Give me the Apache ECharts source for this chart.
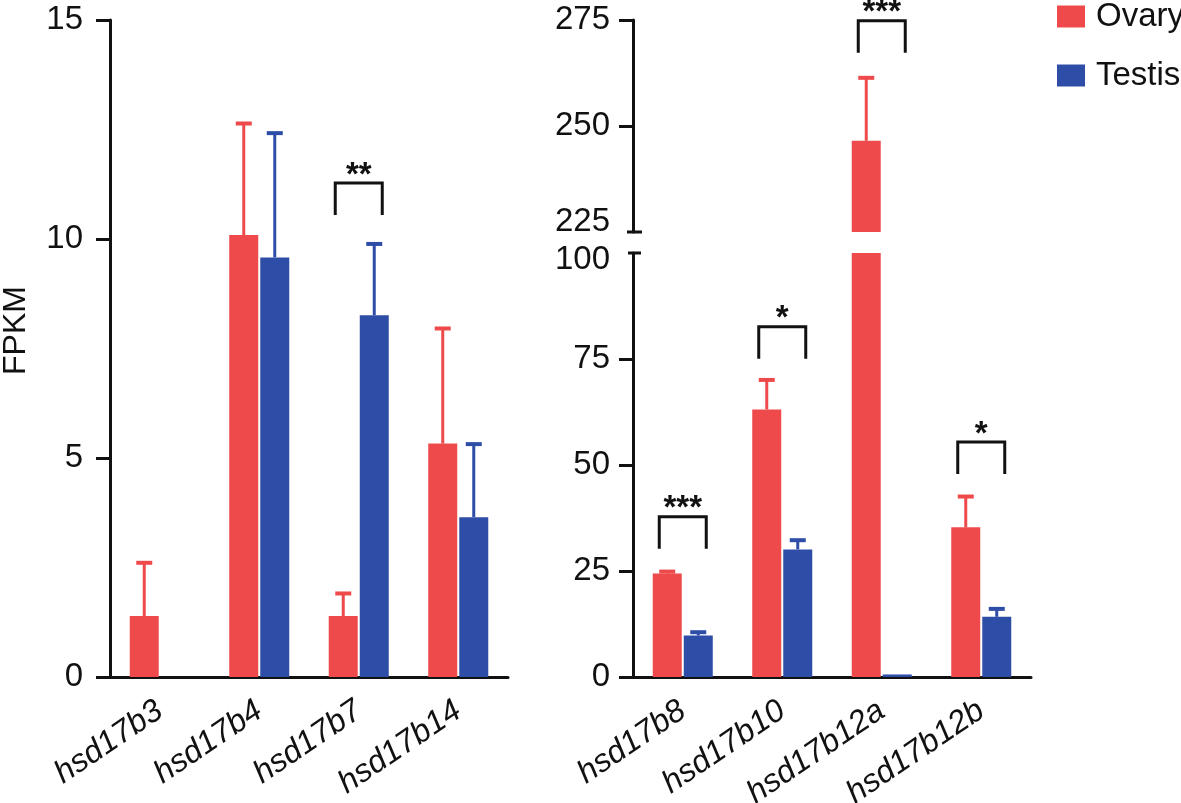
<!DOCTYPE html>
<html>
<head>
<meta charset="utf-8">
<script src="https://cdn.jsdelivr.net/npm/echarts@6/dist/echarts.min.js"></script>
<style>
html,body{margin:0;padding:0;background:#fff;}
#chart{width:1181px;height:803px;}
</style>
</head>
<body>
<div id="chart"></div>
<script>
// ---------- data ----------
const leftCategories = ['hsd17b3', 'hsd17b4', 'hsd17b7', 'hsd17b14'];
const leftOvary = [1.39, 10.09, 1.39, 5.33];
const leftOvarySD = [1.24, 2.57, 0.54, 2.65];
const leftTestis = [0, 9.58, 8.26, 3.65];
const leftTestisSD = [0, 2.86, 1.65, 1.69];
const leftTicks = [0, 5, 10, 15];

const rightCategories = ['hsd17b8', 'hsd17b10', 'hsd17b12a', 'hsd17b12b'];
const rightOvary = [24.4, 63.1, 246.5, 35.3];
const rightOvarySD = [0.7, 7.2, 15.1, 7.5];
const rightTestis = [9.8, 30.1, 0.6, 14.2];
const rightTestisSD = [1.0, 2.4, 0, 2.1];
const rightLowerTicks = [0, 25, 50, 75, 100];
const rightUpperTicks = [225, 250, 275];

// significance brackets: [category index, bracket top value], labels separate
const leftBrackets = [[2, 11.28]];
const leftBracketLabels = ['**'];
const rightLowerBrackets = [[0, 37.8], [1, 82.6], [3, 55.4]];
const rightLowerBracketLabels = ['***', '*', '*'];
const rightUpperBrackets = [[2, 274.8]];
const rightUpperBracketLabels = ['***'];

// ---------- style ----------
const RED = '#EE4A4B';
const BLUE = '#2E4DA7';
const FONT = 'Liberation Sans';
const BAR_W = 29;
const BAR_OFF = 15.5;
const FS = 33;
const XFS = 32;

const chart = echarts.init(document.getElementById('chart'), null, {renderer: 'canvas'});

function errorBarSeries(name, gridIdx, means, sds, color, offset) {
  return {
    name: name + ' SD', type: 'custom', xAxisIndex: gridIdx, yAxisIndex: gridIdx,
    clip: true, z: 3,
    data: means.map((m, i) => [i, m, sds[i]]),
    renderItem: function (params, api) {
      const c = api.value(0), m = api.value(1), s = api.value(2);
      if (!s) return null;
      const p0 = api.coord([c, m]);
      const p1 = api.coord([c, m + s]);
      const x = p0[0] + offset;
      return {
        type: 'group',
        children: [
          {type: 'line', shape: {x1: x, y1: p0[1], x2: x, y2: p1[1]}, style: {stroke: color, lineWidth: 3}},
          {type: 'line', shape: {x1: x - 8, y1: p1[1] + 1, x2: x + 8, y2: p1[1] + 1}, style: {stroke: color, lineWidth: 4}}
        ]
      };
    }
  };
}

function bracketSeries(gridIdx, data, labels) {
  return {
    name: 'sig' + gridIdx, type: 'custom', xAxisIndex: gridIdx, yAxisIndex: gridIdx,
    clip: false, z: 4,
    data: data,
    renderItem: function (params, api) {
      const p = api.coord([api.value(0), api.value(1)]);
      const half = 23.5, leg = 32;
      return {
        type: 'group',
        children: [
          {type: 'polyline', shape: {points: [[p[0] - half, p[1] + leg], [p[0] - half, p[1]], [p[0] + half, p[1]], [p[0] + half, p[1] + leg]]},
           style: {stroke: '#111', lineWidth: 3, fill: null}},
          {type: 'text', x: p[0], y: p[1] + 9,
           style: {text: labels[params.dataIndex], fill: '#111', font: 'bold 33px "' + FONT + '"', align: 'center', verticalAlign: 'bottom'}}
        ]
      };
    }
  };
}

function breakCapSeries(gridIdx, value, leftLen, rightLen) {
  return {
    name: 'break' + gridIdx, type: 'custom', xAxisIndex: gridIdx, yAxisIndex: gridIdx,
    clip: false, z: 5,
    data: [[0, value]],
    renderItem: function (params, api) {
      const p = api.coord([0, api.value(1)]);
      const ax = params.coordSys.x;
      return {type: 'line', shape: {x1: ax - leftLen, y1: p[1], x2: ax + rightLen, y2: p[1]}, style: {stroke: '#111', lineWidth: 3}};
    }
  };
}

function barSeries(name, gridIdx, data, color) {
  return {
    name: name, type: 'bar', xAxisIndex: gridIdx, yAxisIndex: gridIdx,
    data: data, barWidth: BAR_W, barGap: '7%', clip: true,
    itemStyle: {color: color}, z: 2
  };
}

const axisLineStyle = {color: '#111', width: 3};
const labelStyle = {color: '#111', fontFamily: FONT, fontSize: FS};

function xAxis(gridIdx, cats, show) {
  return {
    type: 'category', gridIndex: gridIdx, data: cats,
    axisLine: {show: show, lineStyle: axisLineStyle},
    axisTick: {show: false},
    axisLabel: show ? {show: true, rotate: 34, margin: 31, color: '#111', fontFamily: FONT, fontSize: XFS, fontStyle: 'italic', interval: 0} : {show: false},
    splitLine: {show: false}
  };
}

const option = {
  backgroundColor: '#fff',
  animation: false,
  legend: {
    data: ['Ovary', 'Testis'], orient: 'vertical', left: 1057, top: 0, padding: 0,
    itemWidth: 28, itemHeight: 22, itemGap: 26, icon: 'rect',
    textStyle: {color: '#111', fontFamily: FONT, fontSize: FS, padding: [0, 0, 0, 6]}
  },
  grid: [
    {left: 110, top: 20, width: 398, height: 657, outerBoundsMode: 'none', containLabel: false},
    {left: 633, top: 253, width: 398, height: 424, outerBoundsMode: 'none', containLabel: false},
    {left: 633, top: 20, width: 398, height: 212, outerBoundsMode: 'none', containLabel: false}
  ],
  xAxis: [
    xAxis(0, leftCategories, true),
    xAxis(1, rightCategories, true),
    xAxis(2, rightCategories, false)
  ],
  yAxis: [
    {type: 'value', gridIndex: 0, min: leftTicks[0], max: leftTicks[leftTicks.length - 1], interval: 5,
     name: 'FPKM', nameLocation: 'middle', nameRotate: 90, nameGap: 78,
     nameTextStyle: {color: '#111', fontFamily: FONT, fontSize: 32, padding: [0, 0, 0, 36]},
     axisLine: {show: true, lineStyle: axisLineStyle},
     axisTick: {show: true, length: 14, lineStyle: axisLineStyle},
     axisLabel: Object.assign({margin: 27}, labelStyle),
     splitLine: {show: false}},
    {type: 'value', gridIndex: 1, min: rightLowerTicks[0], max: rightLowerTicks[rightLowerTicks.length - 1], interval: 25,
     axisLine: {show: true, lineStyle: axisLineStyle},
     axisTick: {show: true, length: 14, lineStyle: axisLineStyle, customValues: rightLowerTicks.slice(0, -1)},
     axisLabel: Object.assign({margin: 23,
       formatter: function (v) { return v === rightLowerTicks[rightLowerTicks.length - 1] ? '{dn|' + v + '}' : '' + v; },
       rich: {dn: {fontFamily: FONT, fontSize: FS, color: '#111', padding: [14, 0, 0, 0]}}}, labelStyle),
     splitLine: {show: false}},
    {type: 'value', gridIndex: 2, min: rightUpperTicks[0], max: rightUpperTicks[rightUpperTicks.length - 1], interval: 25,
     axisLine: {show: true, lineStyle: axisLineStyle},
     axisTick: {show: true, length: 14, lineStyle: axisLineStyle, customValues: rightUpperTicks.slice(1)},
     axisLabel: Object.assign({margin: 23,
       formatter: function (v) { return v === rightUpperTicks[0] ? '{up|' + v + '}' : '' + v; },
       rich: {up: {fontFamily: FONT, fontSize: FS, color: '#111', padding: [0, 0, 20, 0]}}}, labelStyle),
     splitLine: {show: false}}
  ],
  series: [
    barSeries('Ovary', 0, leftOvary, RED),
    barSeries('Testis', 0, leftTestis, BLUE),
    errorBarSeries('Ovary', 0, leftOvary, leftOvarySD, RED, -BAR_OFF),
    errorBarSeries('Testis', 0, leftTestis, leftTestisSD, BLUE, BAR_OFF),
    bracketSeries(0, leftBrackets, leftBracketLabels),

    barSeries('Ovary', 1, rightOvary, RED),
    barSeries('Testis', 1, rightTestis, BLUE),
    errorBarSeries('Ovary', 1, rightOvary, rightOvarySD, RED, -BAR_OFF),
    errorBarSeries('Testis', 1, rightTestis, rightTestisSD, BLUE, BAR_OFF),
    bracketSeries(1, rightLowerBrackets, rightLowerBracketLabels),
    breakCapSeries(1, rightLowerTicks[rightLowerTicks.length - 1], 5, 8),

    barSeries('Ovary', 2, rightOvary, RED),
    barSeries('Testis', 2, rightTestis, BLUE),
    errorBarSeries('Ovary', 2, rightOvary, rightOvarySD, RED, -BAR_OFF),
    errorBarSeries('Testis', 2, rightTestis, rightTestisSD, BLUE, BAR_OFF),
    bracketSeries(2, rightUpperBrackets, rightUpperBracketLabels),
    breakCapSeries(2, rightUpperTicks[0], 6, 9)
  ]
};
chart.setOption(option);
</script>
</body>
</html>
